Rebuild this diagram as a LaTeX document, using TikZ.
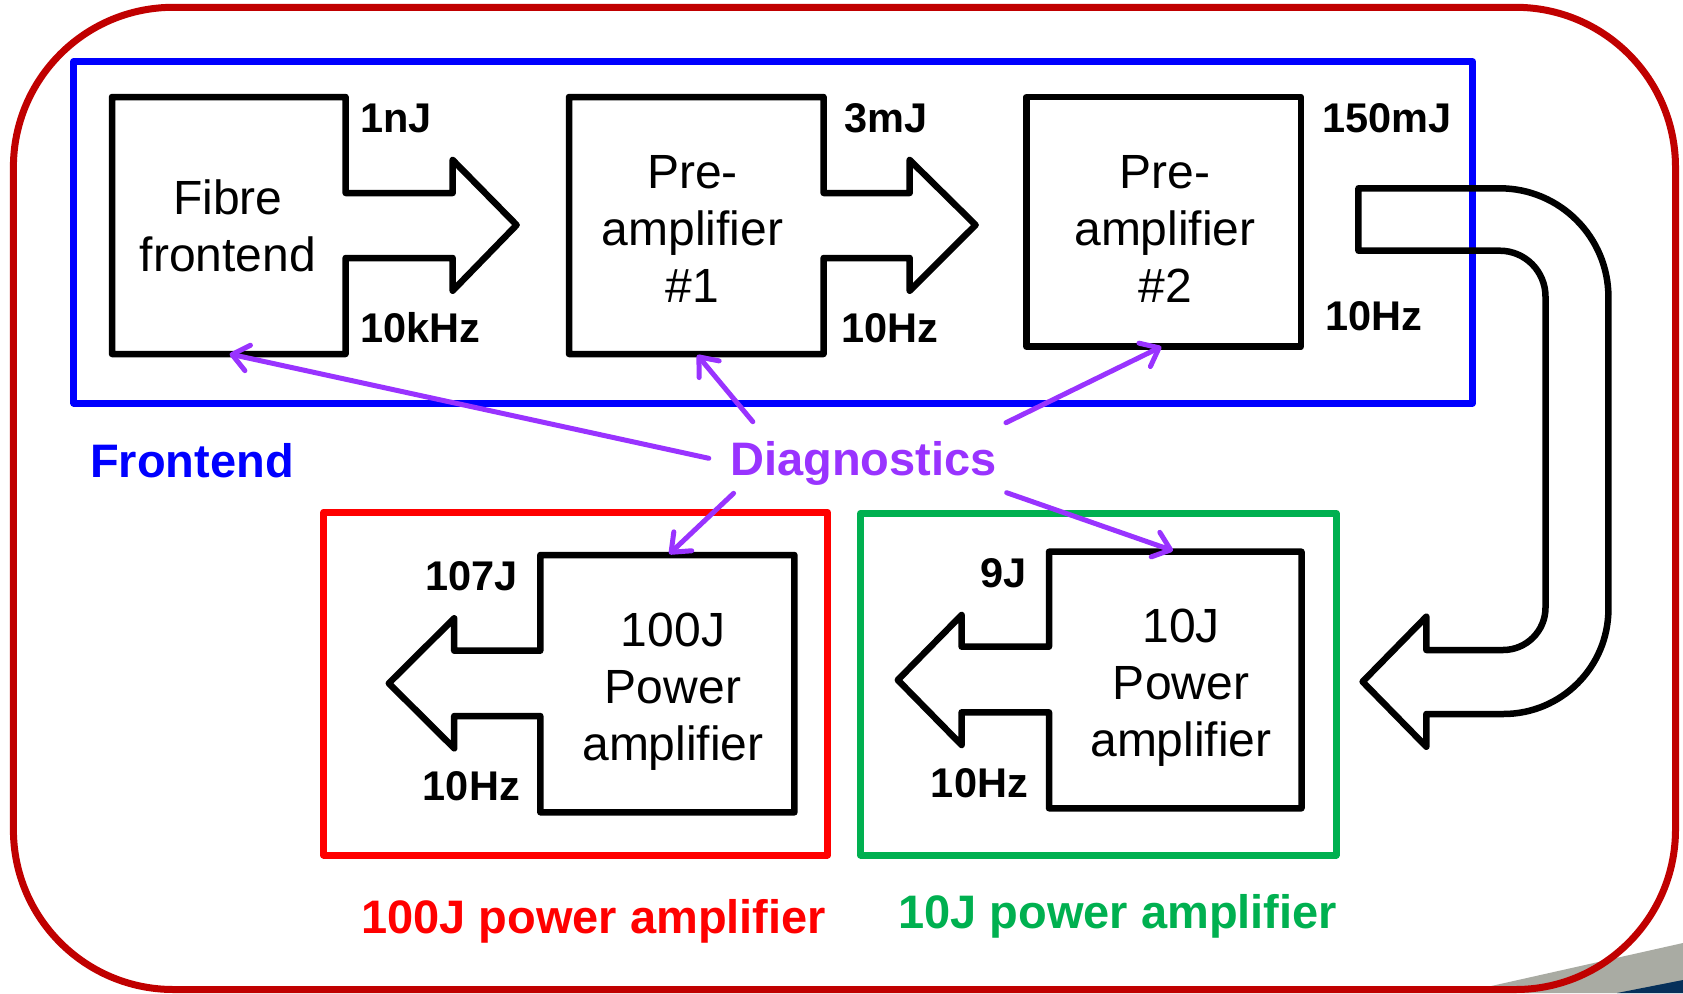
\documentclass[tikz,border=0pt]{standalone}
\usepackage{fontspec}
\setmainfont{Liberation Sans}
\usetikzlibrary{arrows.meta}
\definecolor{outerred}{HTML}{C00000}
\definecolor{feblue}{HTML}{0000FF}
\definecolor{pared}{HTML}{FF0000}
\definecolor{pagreen}{HTML}{00B050}
\definecolor{purp}{HTML}{9933FF}
\definecolor{decogray}{HTML}{A9ABA3}
\definecolor{deconavy}{HTML}{06305A}
\begin{document}
\begin{tikzpicture}[x=1pt,y=-1pt,
  blk/.style={draw=black,line width=6.5pt,line join=round},
  frame/.style={line width=7pt,line join=round},
  boxtext/.style={font=\fontsize{48}{57}\selectfont,align=center,inner sep=0pt},
  small/.style={font=\fontsize{41.5}{50}\selectfont\bfseries,inner sep=0pt},
  sectionlabel/.style={font=\fontsize{47}{56}\selectfont\bfseries,inner sep=0pt},
  diagarrow/.style={draw=purp,line width=5pt,line cap=round,
    -{Straight Barb[length=16pt,width=26pt,line cap=round,line join=round]}}]
\useasboundingbox (0,0) rectangle (1683,993);
% slide decoration bottom right
\fill[decogray] (1460,993) -- (1683,943) -- (1683,993) -- cycle;
\fill[deconavy] (1617,993) -- (1683,980) -- (1683,993) -- cycle;
% outer frame
\draw[outerred,line width=7pt,rounded corners=160pt] (13.4,7.3) rectangle (1675.5,989.5);
% group frames
\draw[frame,feblue] (73.9,61.7) rectangle (1472.5,403);
\draw[frame,pared] (323.7,512.3) rectangle (827.4,855);
\draw[frame,pagreen] (860.6,513.3) rectangle (1336,855);
% Fibre frontend
\draw[blk] (345.6,193) -- (345.6,97) -- (112,97) -- (112,354) -- (345.6,354) -- (345.6,258)
  -- (452.7,258) -- (452.7,290.7) -- (516.6,225) -- (452.7,160) -- (452.7,193) -- cycle;
\node[boxtext] (fibre) at (228,226) {Fibre\\frontend};
% Pre-amplifier #1
\draw[blk] (823.6,193) -- (823.6,97) -- (569,97) -- (569,354) -- (823.6,354) -- (823.6,258)
  -- (909.7,258) -- (909.7,290.7) -- (975.6,225) -- (909.7,160) -- (909.7,193) -- cycle;
\node[boxtext] (pre1) at (692.5,229) {Pre-\\amplifier\\\#1};
% Pre-amplifier #2
\draw[blk] (1026.5,97) rectangle (1300.8,346.7);
\node[boxtext] (pre2) at (1165,229) {Pre-\\amplifier\\\#2};
% U-turn transport arrow
\draw[blk] (1358.4,188.3) -- (1499.7,188.3)
  .. controls (1559.7,188.3) and (1608.4,237) .. (1608.4,297)
  -- (1608.4,609)
  .. controls (1608.4,667) and (1561.4,714) .. (1503.4,714)
  -- (1426.3,714) -- (1426.3,746.7) -- (1362.6,681.7) -- (1426.3,616.7) -- (1426.3,650)
  -- (1503,650)
  .. controls (1526.5,650) and (1545.5,631) .. (1545.5,607.5)
  -- (1545.5,296.7)
  .. controls (1545.5,271.3) and (1525.1,250.7) .. (1499.7,250.7)
  -- (1358.4,250.7) -- cycle;
% 100J power amplifier
\draw[blk] (540.3,650.7) -- (540.3,555) -- (794.4,555) -- (794.4,812.3) -- (540.3,812.3) -- (540.3,716)
  -- (454.2,716) -- (454.2,748.3) -- (388.8,683.3) -- (454.2,618.3) -- (454.2,650.7) -- cycle;
\node[boxtext] (pa100) at (673,692) {100J\\Power\\amplifier};
% 10J power amplifier
\draw[blk] (1049,646.7) -- (1049,551.7) -- (1301.5,551.7) -- (1301.5,808.3) -- (1049,808.3) -- (1049,712.3)
  -- (961.6,712.3) -- (961.6,745) -- (897.8,680) -- (961.6,615) -- (961.6,646.7) -- cycle;
\node[boxtext] (pa10) at (1181,688) {10J\\Power\\amplifier};
% energy / rate labels
\node[small,anchor=base west] (l1) at (360,132) {1nJ};
\node[small,anchor=base west] (l2) at (360,342) {10kHz};
\node[small,anchor=base west] (l3) at (844,132) {3mJ};
\node[small,anchor=base west] (l4) at (841,342) {10Hz};
\node[small,anchor=base west] (l5) at (1322,132) {150mJ};
\node[small,anchor=base west] (l6) at (1325,330) {10Hz};
\node[small,anchor=base east] (l7) at (518,590) {107J};
\node[small,anchor=base east] (l8) at (520,800) {10Hz};
\node[small,anchor=base east] (l9) at (1026.4,587) {9J};
\node[small,anchor=base east] (l10) at (1028,797) {10Hz};
% section labels
\node[sectionlabel,text=feblue,anchor=base west] (fe) at (90,477) {Frontend};
\node[sectionlabel,text=pared,anchor=base west] (s100) at (361,933) {100J power amplifier};
\node[sectionlabel,text=pagreen,anchor=base west] (s10) at (898,928) {10J power amplifier};
\node[sectionlabel,text=purp,anchor=base west] (diag) at (730,475) {Diagnostics};
% diagnostic connectors
\coordinate (dA) at (708.8,458.3);
\coordinate (dB) at (752.8,421.7);
\coordinate (dC) at (1006,422.7);
\coordinate (dD) at (733.6,493.3);
\coordinate (dE) at (1006.7,492.7);
\coordinate (tA) at (229.6,354);
\coordinate (tB) at (697.3,355);
\coordinate (tC) at (1161.3,346.7);
\coordinate (tD) at (669.3,554);
\coordinate (tE) at (1173,550.7);
\draw[diagarrow] (dA) -- (tA);
\draw[diagarrow] (dB) -- (tB);
\draw[diagarrow] (dC) -- (tC);
\draw[diagarrow] (dD) -- (tD);
\draw[diagarrow] (dE) -- (tE);
\end{tikzpicture}
\end{document}
